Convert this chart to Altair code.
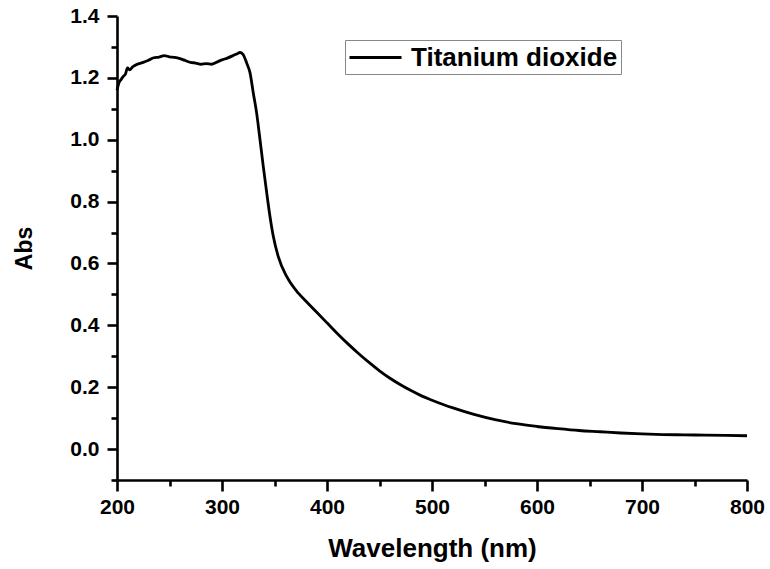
import altair as alt
import pandas as pd

wavelength = [200, 202, 204, 206, 208, 210, 212, 215, 220, 225, 230, 235, 240, 245,
              250, 255, 260, 265, 270, 275, 280, 285, 290, 295, 300, 305, 310, 315,
              317, 320, 323.5, 326.7, 329.8, 333, 336.2, 339.3, 342.6, 345.7, 348.9,
              353.6, 361.6, 372.7, 380, 390, 400, 410, 420, 430, 440, 450, 460, 470,
              480, 490, 500, 510, 520, 540, 560, 580, 600, 620, 640, 660, 680, 700,
              720, 740, 760, 780, 800]
absorbance = [1.160, 1.185, 1.195, 1.205, 1.212, 1.232, 1.226, 1.236, 1.245, 1.250,
              1.257, 1.265, 1.267, 1.272, 1.268, 1.266, 1.262, 1.256, 1.250, 1.248,
              1.244, 1.246, 1.244, 1.251, 1.258, 1.264, 1.271, 1.279, 1.282, 1.276,
              1.248, 1.216, 1.151, 1.086, 1.000, 0.914, 0.828, 0.752, 0.687, 0.622,
              0.558, 0.504, 0.478, 0.443, 0.408, 0.373, 0.340, 0.309, 0.280, 0.253,
              0.229, 0.208, 0.189, 0.172, 0.158, 0.145, 0.133, 0.112, 0.095, 0.082,
              0.073, 0.066, 0.060, 0.056, 0.052, 0.049, 0.047, 0.046, 0.045, 0.044,
              0.043]
series = ["Titanium dioxide"] * len(wavelength)

x_major = [200, 300, 400, 500, 600, 700, 800]
x_minor = [250, 350, 450, 550, 650, 750]
y_major = [0.0, 0.2, 0.4, 0.6, 0.8, 1.0, 1.2, 1.4]
y_minor = [-0.1, 0.1, 0.3, 0.5, 0.7, 0.9, 1.1, 1.3]

df = pd.DataFrame({"Wavelength": wavelength, "Abs": absorbance, "Series": series})

FONT = "Liberation Sans"
xs = alt.Scale(domain=[200, 800], nice=False, zero=False)
ys = alt.Scale(domain=[-0.1, 1.4], nice=False, zero=False)

main = alt.Chart(df).mark_line(strokeWidth=2.8, interpolate="monotone").encode(
    x=alt.X("Wavelength:Q", scale=xs,
            axis=alt.Axis(orient="bottom", values=x_major, format="d", title="Wavelength (nm)",
                          grid=False, domainColor="black", domainWidth=2.6,
                          tickColor="black", tickWidth=2.6, tickSize=11,
                          labelFont=FONT, labelFontSize=21, labelFontWeight="bold",
                          labelColor="black", labelPadding=5, labelFlush=False,
                          titleFont=FONT, titleFontSize=26, titleFontWeight="bold",
                          titleColor="black", titlePadding=18)),
    y=alt.Y("Abs:Q", scale=ys,
            axis=alt.Axis(orient="left", values=y_major, format=".1f", title="Abs",
                          grid=False, domainColor="black", domainWidth=2.6,
                          tickColor="black", tickWidth=2.6, tickSize=10,
                          labelFont=FONT, labelFontSize=21, labelFontWeight="bold",
                          labelColor="black", labelPadding=8, labelFlush=False,
                          titleFont=FONT, titleFontSize=23, titleFontWeight="bold",
                          titleColor="black", titlePadding=33)),
    color=alt.Color("Series:N",
                    scale=alt.Scale(domain=["Titanium dioxide"], range=["black"]),
                    legend=alt.Legend(orient="none", legendX=228, legendY=24, title=None,
                                      strokeColor="#888888", fillColor="white",
                                      padding=3, symbolType="M-1,0L3,0", symbolSize=676,
                                      symbolStrokeWidth=3, labelFont=FONT,
                                      labelFontSize=26, labelFontWeight="bold",
                                      labelColor="black", labelOffset=34, labelLimit=0)),
)

minor = alt.Chart(df).mark_line(opacity=0).encode(
    x=alt.X("Wavelength:Q", scale=xs,
            axis=alt.Axis(orient="bottom", values=x_minor, labels=False, title=None,
                          grid=False, domain=False, tickColor="black", tickWidth=2.6,
                          tickSize=6)),
    y=alt.Y("Abs:Q", scale=ys,
            axis=alt.Axis(orient="left", values=y_minor, labels=False, title=None,
                          grid=False, domain=False, tickColor="black", tickWidth=2.6,
                          tickSize=6)),
)

chart = alt.layer(main, minor).resolve_axis(x="independent", y="independent").properties(
    width=630, height=464,
    autosize=alt.AutoSizeParams(type="none"),
    padding={"left": 117, "top": 16, "right": 23, "bottom": 89},
    background="white",
).configure_view(stroke=None)

chart.save("out.html", embed_options={"renderer": "svg", "actions": False})
